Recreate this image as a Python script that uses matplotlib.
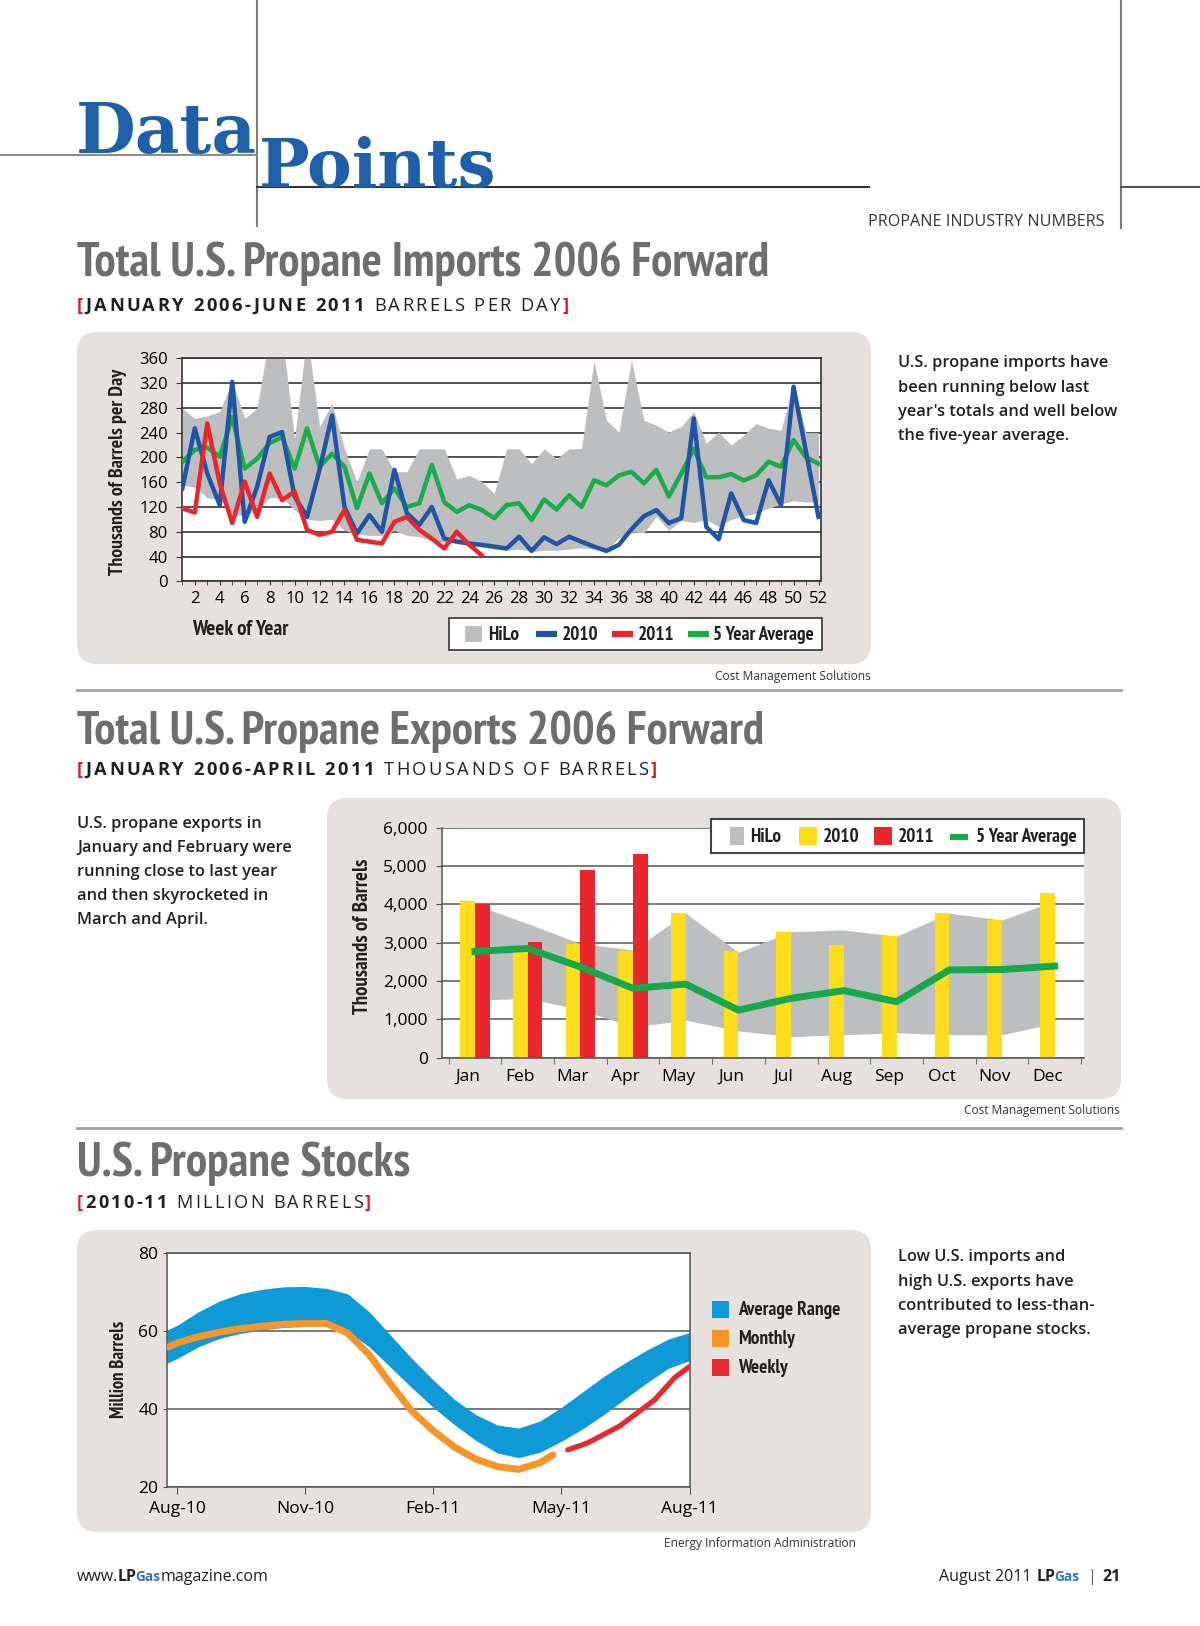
import matplotlib
matplotlib.use('Agg')
import matplotlib.pyplot as plt
from matplotlib import font_manager as fm
from matplotlib.font_manager import FontProperties
from matplotlib.patches import FancyBboxPatch, Rectangle
import numpy as np

W, H = 1200, 1626

# ---- imports, thousand barrels per day, by week of year
weeks = list(range(1, 53))
imp_hi = [279, 263, 267, 274, 325, 263, 280, 400, 400, 230, 400, 250, 287, 214, 161, 214,
          214, 177, 177, 214, 214, 214, 165, 171, 161, 142, 214, 214, 190, 214, 198, 214,
          214, 357, 260, 241, 357, 260, 252, 241, 250, 274, 223, 241, 220, 236, 255, 247,
          244, 318, 240, 240]
imp_lo = [155, 152, 135, 132, 110, 105, 115, 135, 135, 115, 100, 98, 100, 82, 77, 74,
          74, 82, 74, 72, 65, 62, 62, 57, 55, 52, 50, 52, 48, 50, 50, 52,
          54, 52, 50, 70, 80, 78, 105, 82, 98, 95, 100, 88, 100, 105, 110, 118,
          125, 130, 128, 128]
imp_2010 = [150, 247, 174, 123, 322, 96, 153, 233, 241, 137, 104, 180, 268, 120, 77, 107,
            80, 180, 110, 91, 120, 69, 64, 61, 59, 56, 53, 72, 49, 71, 60, 72,
            64, 56, 49, 59, 84, 105, 115, 94, 102, 263, 88, 68, 142, 99, 94, 163,
            123, 314, 209, 104]
imp_2011 = [118, 111, 255, 158, 94, 161, 104, 174, 131, 145, 83, 75, 80, 115, 67, 64,
            61, 96, 104, 83, 69, 53, 80, 59, 42]
imp_avg = [193, 212, 216, 201, 265, 182, 198, 223, 233, 182, 247, 185, 206, 185, 118, 174,
           126, 150, 120, 126, 188, 128, 112, 123, 115, 102, 123, 126, 99, 132, 116, 139,
           120, 163, 155, 171, 177, 158, 180, 137, 174, 214, 168, 168, 173, 163, 171, 193,
           185, 228, 200, 190]

# ---- exports, thousands of barrels, by month
months = ['Jan', 'Feb', 'Mar', 'Apr', 'May', 'Jun', 'Jul', 'Aug', 'Sep', 'Oct', 'Nov', 'Dec']
exp_2010 = [4090, 2770, 2960, 2790, 3780, 2790, 3270, 2940, 3170, 3770, 3590, 4290]
exp_2011 = [4010, 3010, 4890, 5310]
exp_hi = [3990, 3500, 2980, 2810, 3770, 2750, 3290, 3330, 3170, 3770, 3590, 4100]
exp_lo = [1500, 1550, 1250, 800, 980, 700, 550, 600, 650, 600, 600, 900]
exp_avg = [2770, 2850, 2370, 1810, 1920, 1240, 1550, 1750, 1460, 2290, 2300, 2390]

# ---- stocks, million barrels (x in months, 0 = Aug-10)
stock_ticks = ['Aug-10', 'Nov-10', 'Feb-11', 'May-11', 'Aug-11']
band_m = [-0.24, 0, 0.5, 1, 1.5, 2, 2.5, 3, 3.5, 4, 4.5, 5, 5.5, 6, 6.5, 7, 7.5, 8,
          8.5, 9, 9.5, 10, 10.5, 11, 11.5, 12]
range_hi = [60.3, 61.5, 65.0, 67.8, 69.7, 70.8, 71.4, 71.5, 71.0, 69.6, 65.0, 59.0, 53.0,
            47.5, 42.5, 38.6, 36.0, 35.2, 37.0, 40.5, 44.5, 48.5, 52.0, 55.2, 58.0, 59.7]
range_lo = [51.8, 53.0, 56.0, 58.2, 59.5, 60.4, 61.0, 61.3, 61.3, 60.0, 56.0, 50.8, 45.5,
            40.5, 36.0, 32.0, 28.8, 27.6, 29.0, 31.8, 35.0, 38.7, 42.8, 46.8, 50.5, 52.5]
monthly_m = [-0.2, 0, 0.5, 1, 1.5, 2, 2.5, 3, 3.5, 4, 4.5, 5, 5.5, 6, 6.5, 7, 7.5, 8, 8.5, 8.8]
monthly = [56.0, 57.0, 58.6, 59.8, 60.7, 61.3, 61.8, 62.0, 62.0, 59.5, 54.0, 46.5, 39.5,
           34.5, 30.3, 27.2, 25.3, 24.6, 26.3, 28.3]
weekly_m = [9.15, 9.6, 10.35, 11.18, 11.64, 12.0]
weekly = [29.6, 31.3, 35.6, 42.4, 48.0, 51.0]

plt.rcParams['font.family'] = ['Open Sans', 'DejaVu Sans']

fig = plt.figure(figsize=(12, 16.26), dpi=100)
bg = fig.add_axes([0, 0, 1, 1])
bg.set_xlim(0, W)
bg.set_ylim(H, 0)
bg.axis('off')
R = fig.canvas.get_renderer()


def width_of(s, fp):
    t = bg.text(0, 0, s, fontproperties=fp)
    w = t.get_window_extent(R).width
    t.remove()
    return w


# bold sans face whose width comes closest to the condensed headings
TITLE = 'Total U.S. Propane Imports 2006 Forward'
names = {f.name for f in fm.fontManager.ttflist}
cands = []
for f in fm.fontManager.ttflist:
    n = (f.name + ' ' + f.fname).lower()
    if 'mono' in n or 'serif' in n or 'sans' not in n or f.style != 'normal':
        continue
    w = f.weight if isinstance(f.weight, int) else fm.weight_dict.get(f.weight, 400)
    if 600 <= w <= 800:
        cands.append((dict(fname=f.fname), w))
for fam in ['Liberation Sans Narrow', 'Roboto', 'Open Sans']:
    if fam in names:
        cands.append((dict(family=fam, weight='bold'), 700))


def score(c):
    k, w = c
    em = width_of(TITLE, FontProperties(size=20, **k)) / (20 * 100 / 72)
    return abs(em - 14.6) + abs(w - 700) / 400


COND = min(cands, key=score)[0] if cands else dict(family='DejaVu Sans', weight='bold')


def cond(size):
    return FontProperties(size=size, **COND)


def body(size, weight='semibold'):
    return FontProperties(family=['Open Sans', 'DejaVu Sans'], weight=weight, size=size)


def rect(l, t, r, b):
    return [l / W, 1 - b / H, (r - l) / W, (b - t) / H]


def fit(s, width, maker, base=20.0):
    return base * width / width_of(s, maker(base))


def seq(x, y, pieces, align='left'):
    # pieces: (text, fontprops, color, gap after)
    def draw(x0):
        arts, xx = [], x0
        for s, fp, c, gap in pieces:
            t = bg.text(xx, y, s, fontproperties=fp, color=c, va='baseline')
            arts.append(t)
            xx += t.get_window_extent(R).width + gap
        return xx, arts
    end, arts = draw(x)
    if align == 'right':
        for a in arts:
            a.remove()
        draw(2 * x - end)


def tracked(x, y, pieces, width, track=0.13):
    def draw(size):
        xx, arts = x, []
        px = size * 100 / 72
        for s, c, wt in pieces:
            fp = body(size, wt)
            for ch in s:
                if ch == ' ':
                    xx += px * 0.26 + px * track
                    continue
                t = bg.text(xx, y, ch, fontproperties=fp, color=c, va='baseline')
                arts.append(t)
                xx += t.get_window_extent(R).width + px * track
        return xx - px * track, arts
    end, arts = draw(13)
    for a in arts:
        a.remove()
    draw(13 * width / (end - x))


PANEL = '#e6e1df'
GREYT = '#6d6e70'
DARK = '#231f20'
RED = '#d2232a'
BLUE_LOGO = '#1e5fa8'

# ---- page furniture
for l, t, r, b in [(77, 332, 871, 664), (327, 798, 1121, 1099), (77, 1230, 871, 1532)]:
    bg.add_patch(FancyBboxPatch((l, t), r - l, b - t, boxstyle='round,pad=0,rounding_size=20',
                                fc=PANEL, ec='none', zorder=0))
bg.plot([257, 257], [0, 226], color='#7d7d7d', lw=1.5)
bg.plot([0, 257], [155.5, 155.5], color='#8c8c8c', lw=1.5)
bg.plot([257, 869], [187.5, 187.5], color='#333333', lw=1.5)
bg.plot([1121, 1121], [0, 228], color='#7d7d7d', lw=1.5)
bg.plot([1121, 1200], [187.5, 187.5], color='#555555', lw=1.5)
bg.plot([77, 1121], [690.5, 690.5], color='#a0a0a0', lw=2)
bg.plot([77, 1121], [1128, 1128], color='#a0a0a0', lw=2)

logo = lambda s: FontProperties(family='DejaVu Serif', weight='bold', size=s)
bg.text(76, 153.5, 'Data', fontproperties=logo(fit('Data', 181, logo)), color=BLUE_LOGO, va='baseline')
bg.text(259, 187, 'Points', fontproperties=logo(fit('Points', 238, logo)), color=BLUE_LOGO, va='baseline')

bg.text(1104, 226, 'PROPANE INDUSTRY NUMBERS',
        fontproperties=body(fit('PROPANE INDUSTRY NUMBERS', 235, lambda s: body(s, 'normal')), 'normal'),
        color='#333333', ha='right', va='baseline')

titles = [(TITLE, 276, 695),
          ('Total U.S. Propane Exports 2006 Forward', 743.5, 690),
          ('U.S. Propane Stocks', 1176, 333)]
for s, yb, wd in titles:
    bg.text(77, yb, s, fontproperties=cond(fit(s, wd, cond)), color=GREYT, va='baseline')

tracked(77, 311, [('[', RED, 'bold'), ('JANUARY 2006-JUNE 2011', DARK, 'bold'),
                  (' BARRELS PER DAY', DARK, 'normal'), (']', RED, 'bold')], 492)
tracked(77, 774.5, [('[', RED, 'bold'), ('JANUARY 2006-APRIL 2011', DARK, 'bold'),
                    (' THOUSANDS OF BARRELS', DARK, 'normal'), (']', RED, 'bold')], 579)
tracked(77, 1208, [('[', RED, 'bold'), ('2010-11', DARK, 'bold'),
                   (' MILLION BARRELS', DARK, 'normal'), (']', RED, 'bold')], 294)

bsz = fit("year's totals and well below", 217, body)
notes = [(898, [367, 392, 416, 440], ['U.S. propane imports have', 'been running below last',
                                      "year's totals and well below", 'the five-year average.']),
         (77, [827.5, 851.5, 875.5, 899.5, 923.5], ['U.S. propane exports in', 'January and February were',
                                                    'running close to last year', 'and then skyrocketed in',
                                                    'March and April.']),
         (898, [1261, 1286, 1310, 1334], ['Low U.S. imports and', 'high U.S. exports have',
                                          'contributed to less-than-', 'average propane stocks.'])]
for x, ys, lines in notes:
    for yy, s in zip(ys, lines):
        bg.text(x, yy, s, fontproperties=body(bsz), color=DARK, va='baseline')

src = lambda s: body(s, 'normal')
ssz = fit('Cost Management Solutions', 156, src)
bg.text(871, 680, 'Cost Management Solutions', fontproperties=src(ssz), color='#333', ha='right', va='baseline')
bg.text(1120, 1114, 'Cost Management Solutions', fontproperties=src(ssz), color='#333', ha='right', va='baseline')
bg.text(855.5, 1547, 'Energy Information Administration', fontproperties=src(ssz), color='#333',
        ha='right', va='baseline')

fsz = 11.5
seq(77, 1581, [('www.', body(fsz, 'normal'), DARK, -1), ('LP', body(fsz, 'bold'), DARK, -0.5),
               ('Gas', body(fsz * 0.85, 'bold'), '#3a6fb0', -0.5), ('magazine.com', body(fsz, 'normal'), DARK, 0)])
seq(1121, 1581, [('August 2011', body(fsz, 'normal'), DARK, 5), ('LP', body(fsz, 'bold'), DARK, -0.5),
                 ('Gas', body(fsz * 0.85, 'bold'), '#3a6fb0', 7), ('|', body(fsz, 'normal'), '#666', 7),
                 ('21', body(fsz, 'bold'), DARK, 0)], align='right')

# ---- chart 1: imports
C_GREY = '#bcbec0'
C_BLUE = '#2155a3'
C_RED = '#e8262d'
C_GREEN = '#1aab4b'
ax1 = fig.add_axes(rect(181.7, 358.3, 821, 581.3))
ax1.fill_between(weeks, imp_lo, imp_hi, color=C_GREY, lw=0, zorder=1)
ax1.plot(weeks, imp_avg, color=C_GREEN, lw=3.2, zorder=3)
ax1.plot(weeks, imp_2010, color=C_BLUE, lw=3.2, zorder=4)
ax1.plot(weeks[:len(imp_2011)], imp_2011, color=C_RED, lw=3.2, zorder=5)
ax1.set_xlim(0.95, 52.2)
ax1.set_ylim(0, 360)
ax1.set_yticks(range(0, 361, 40))
ax1.set_xticks(range(2, 53, 2))
ax1.set_xticks(weeks, minor=True)
ax1.set_axisbelow(True)
ax1.grid(axis='y', color='#333333', lw=1.2)
for sp in ax1.spines.values():
    sp.set_color('#333333')
    sp.set_linewidth(1.2)
ax1.tick_params(axis='y', length=4, pad=6, labelsize=12, color='#333')
ax1.tick_params(axis='x', which='major', length=3, pad=4, labelsize=12, color='#333')
ax1.tick_params(axis='x', which='minor', length=3, color='#333')

bg.text(118, 472, 'Thousands of Barrels per Day',
        fontproperties=cond(fit('Thousands of Barrels per Day', 207, cond)),
        rotation=90, ha='center', va='center', color=DARK)
bg.text(192, 634.5, 'Week of Year', fontproperties=cond(fit('Week of Year', 97, cond)),
        color=DARK, va='baseline')

lsz = fit('5 Year Average', 100.5, cond)
bg.add_patch(Rectangle((449, 618), 373, 32, fc='white', ec='#333', lw=1.2))
bg.add_patch(Rectangle((464.5, 626.5), 17.5, 16, fc=C_GREY, ec='none'))
bg.text(488, 640, 'HiLo', fontproperties=cond(lsz), color=DARK, va='baseline')
for x0, c, s in [(536, C_BLUE, '2010'), (612, C_RED, '2011'), (687.5, C_GREEN, '5 Year Average')]:
    bg.plot([x0, x0 + 21], [634, 634], color=c, lw=4.5, solid_capstyle='butt')
    bg.text(x0 + 25.5, 640, s, fontproperties=cond(lsz), color=DARK, va='baseline')

# ---- chart 2: exports
C_YEL = '#fedd1f'
x = np.arange(len(months))
ax2 = fig.add_axes(rect(441.7, 827.7, 1083.7, 1057.7))
ax2.fill_between(x + 0.14, exp_lo, exp_hi, color=C_GREY, lw=0, zorder=1)
ax2.bar(x, exp_2010, width=0.28, color=C_YEL, zorder=2)
ax2.bar(x[:len(exp_2011)] + 0.28, exp_2011, width=0.28, color=C_RED, zorder=2)
ax2.plot(x + 0.14, exp_avg, color='#16a84b', lw=5, zorder=3, solid_joinstyle='round')
ax2.set_xlim(-0.49, 11.69)
ax2.set_ylim(0, 6000)
ax2.set_yticks(range(0, 6001, 1000))
ax2.set_yticklabels([f'{v:,}' for v in range(0, 6001, 1000)])
ax2.set_xticks(x)
ax2.set_xticklabels(months)
ax2.set_xticks(np.arange(-0.36, 12, 1), minor=True)
ax2.set_axisbelow(True)
ax2.grid(axis='y', color='#555555', lw=1.1)
ax2.spines['top'].set_visible(False)
ax2.spines['right'].set_visible(False)
for sp in ('left', 'bottom'):
    ax2.spines[sp].set_color('#555')
    ax2.spines[sp].set_linewidth(1.1)
ax2.tick_params(axis='y', length=4, pad=6, labelsize=12.5, color='#555')
ax2.tick_params(axis='x', which='major', length=0, pad=8, labelsize=12.5)
ax2.tick_params(axis='x', which='minor', length=4, color='#555')

bg.text(363, 936, 'Thousands of Barrels', fontproperties=cond(fit('Thousands of Barrels', 155.5, cond)),
        rotation=90, ha='center', va='center', color=DARK)

# ---- chart 3: stocks
C_BAND = '#0f9ad6'
C_ORG = '#f5962a'
ax3 = fig.add_axes(rect(166.7, 1253.3, 689.6, 1487.3))
ax3.fill_between(band_m, range_lo, range_hi, color=C_BAND, lw=0, zorder=2)
ax3.plot(monthly_m, monthly, color=C_ORG, lw=5, zorder=3, solid_capstyle='round', solid_joinstyle='round')
ax3.plot(weekly_m, weekly, color='#e62a2f', lw=3.8, zorder=4, solid_capstyle='round', solid_joinstyle='round')
ax3.set_xlim(-0.24, 12)
ax3.set_ylim(20, 80)
ax3.set_yticks([20, 40, 60, 80])
ax3.set_xticks([0, 3, 6, 9, 12])
ax3.set_xticklabels(stock_ticks)
ax3.set_axisbelow(True)
ax3.grid(axis='y', color='#555555', lw=1.1)
for sp in ax3.spines.values():
    sp.set_color('#555')
    sp.set_linewidth(1.1)
ax3.tick_params(axis='y', length=3, pad=3, labelsize=12.5, color='#555')
ax3.tick_params(axis='x', length=5, pad=5, labelsize=12.5, color='#555')

bg.text(119, 1369, 'Million Barrels', fontproperties=cond(fit('Million Barrels', 96.5, cond)),
        rotation=90, ha='center', va='center', color=DARK)
for yc, c, s in [(1309, C_BAND, 'Average Range'), (1338, C_ORG, 'Monthly'), (1367, '#e62a2f', 'Weekly')]:
    bg.add_patch(Rectangle((711.5, yc - 8.5), 17.5, 17, fc=c, ec='none'))
    bg.text(738, yc + 5.5, s, fontproperties=cond(fit('Average Range', 102, cond)), color=DARK, va='baseline')

# ---- overlay for the exports legend, which sits over the plot area
top = fig.add_axes([0, 0, 1, 1])
top.set_xlim(0, W)
top.set_ylim(H, 0)
top.axis('off')
top.patch.set_alpha(0)
top.add_patch(Rectangle((711, 819), 373, 33.5, fc='white', ec='#444', lw=1.5))
top.add_patch(Rectangle((730, 827), 14, 18, fc=C_GREY, ec='none'))
top.add_patch(Rectangle((799, 827), 17.5, 18, fc=C_YEL, ec='none'))
top.add_patch(Rectangle((874, 827), 18, 18, fc=C_RED, ec='none'))
top.plot([950, 968], [836.5, 836.5], color='#16a84b', lw=4.5, solid_capstyle='butt')
for x0, s in [(750, 'HiLo'), (823, '2010'), (898, '2011'), (976.5, '5 Year Average')]:
    top.text(x0, 842, s, fontproperties=cond(lsz), color=DARK, va='baseline')

fig.savefig('out.png', dpi=100)
